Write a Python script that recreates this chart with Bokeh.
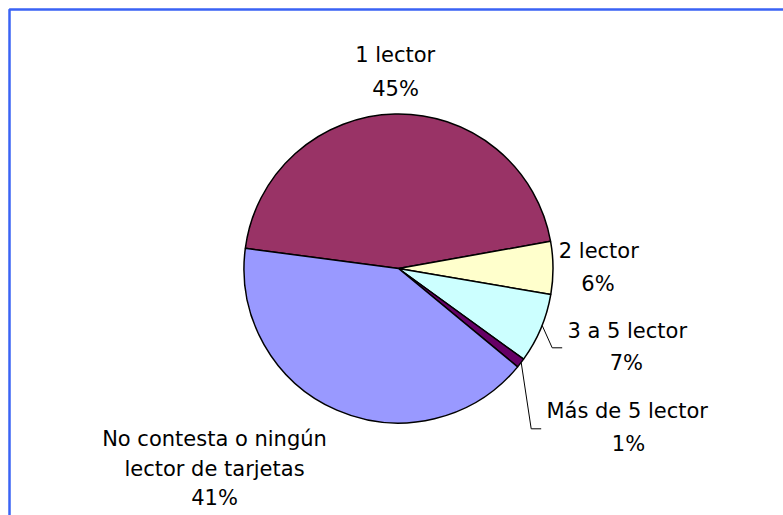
import math
from bokeh.plotting import figure
from bokeh.models import Range1d, ColumnDataSource
from bokeh.core.properties import value
from bokeh.embed import file_html
from bokeh.resources import INLINE

# ---- data ----
categories = ["1 lector", "2 lector", "3 a 5 lector", "Más de 5 lector",
              "No contesta o ningún\nlector de tarjetas"]
values = [45.1, 5.5, 7.3, 1.0, 41.1]
colors = ["#993366", "#FFFFCC", "#CCFFFF", "#660066", "#9999FF"]

# ---- layout constants (page pixel coords) ----
W, H = 783, 515
CX, CY, R = 398, 268, 154.5
START_DEG = 172.5
FONT = "DejaVu Sans"
FS = "21px"

p = figure(width=W, height=H, x_range=Range1d(0, W), y_range=Range1d(-H, 0),
           output_backend="svg", toolbar_location=None, min_border=0)
p.axis.visible = False
p.grid.visible = False
p.outline_line_color = None
p.background_fill_color = "white"
p.border_fill_color = "white"

# pie wedges
total = sum(values)
starts, ends = [], []
a = math.radians(START_DEG)
for v in values:
    span = v / total * 2 * math.pi
    starts.append(a)
    ends.append(a - span)
    a -= span
src = ColumnDataSource(dict(start=starts, end=ends, color=colors))
p.wedge(x=CX, y=-CY, radius=R, start_angle="start", end_angle="end", direction="clock",
        fill_color="color", line_color="black", line_width=1.5, source=src)

# labels
pct = [f"{int(math.floor(v / total * 100 + 0.5))}%" for v in values]
label_pos = [
    [(394.7, 54), (395, 88.5)],
    [(598.3, 250.5), (597.5, 283)],
    [(626.7, 330.5), (625.8, 362)],
    [(626.7, 410.5), (628, 443.5)],
    [(214, 438), (214, 468), (214, 497.5)],
]
tx, ty, tt = [], [], []
for cat, pc, pos in zip(categories, pct, label_pos):
    lines = cat.split("\n") + [pc]
    for line, (x, y) in zip(lines, pos):
        tx.append(x)
        ty.append(-y)
        tt.append(line)
p.text(x=tx, y=ty, text=tt, text_font=value(FONT), text_font_size=FS,
       text_align="center", text_baseline="alphabetic", text_color="black")

# leader lines
p.line(x=[541.7, 551.7, 561.7], y=[-325, -347.3, -347.3], line_color="black", line_width=1)
p.line(x=[520.7, 530.7, 540.7], y=[-362, -428.3, -428.3], line_color="black", line_width=1)

# chart-area border (top and left visible)
p.line(x=[9, 9, W], y=[-H, -9, -9], line_color="#3A63F5", line_width=2.5)

open("out.html", "w").write(file_html(p, INLINE))
